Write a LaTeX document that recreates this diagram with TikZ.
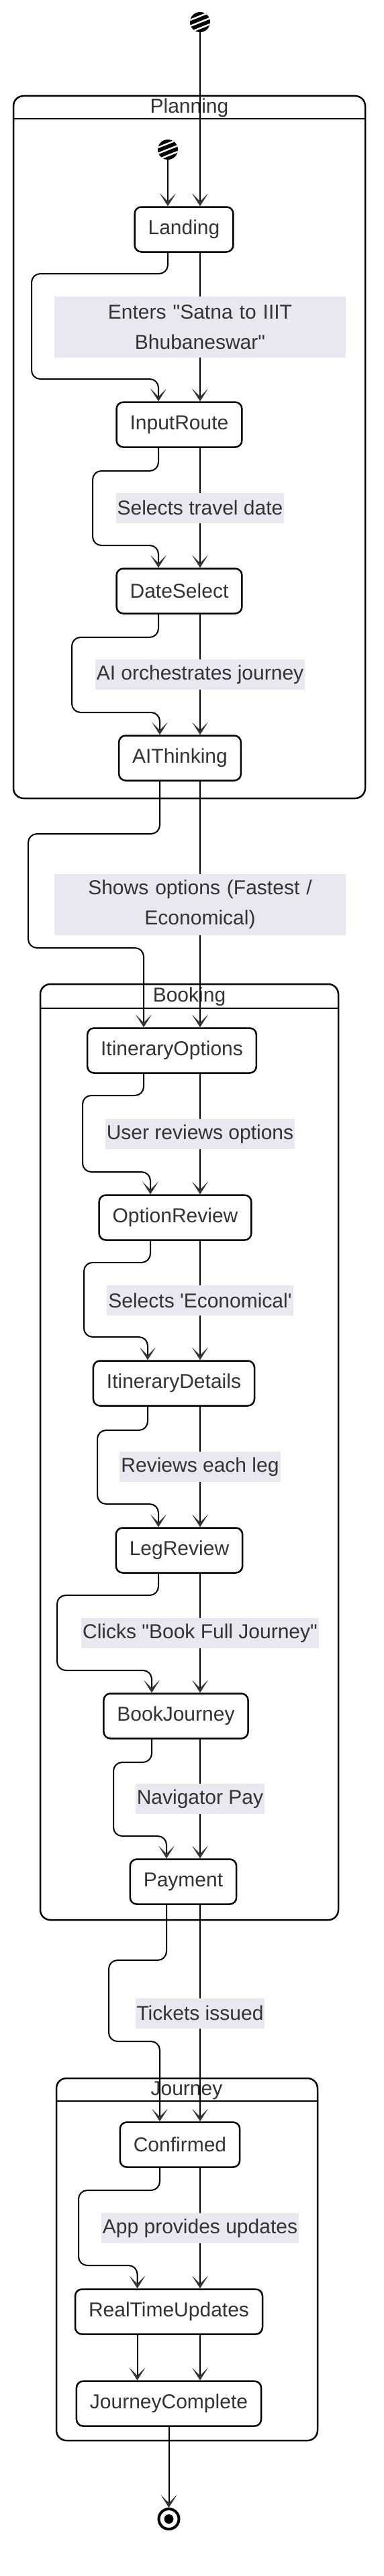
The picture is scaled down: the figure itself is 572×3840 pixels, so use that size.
\documentclass[tikz,border=0pt]{standalone}
\usepackage{fontspec}
\setmainfont{Liberation Sans}
\usetikzlibrary{arrows.meta}
\definecolor{txt}{HTML}{333333}
\definecolor{labbg}{RGB}{232,232,240}
\begin{document}
\begin{tikzpicture}[x=1pt,y=-1pt,
  state/.style={draw=black, line width=2.5pt, rounded corners=10pt, fill=white, minimum height=67pt, inner xsep=20pt, inner ysep=0pt, text=txt, font=\fontsize{30}{36}\selectfont},
  lab/.style={fill=labbg, text=txt, font=\fontsize{30}{45}\selectfont, inner xsep=2pt, inner ysep=0pt, minimum height=45pt},
  lab2/.style={lab, text width=430pt, align=center, minimum height=91pt},
  conn/.style={draw=black, line width=2pt, -{Stealth[length=19pt,width=24pt,inset=12pt,color=txt,line width=0.5pt]}},
  curve/.style={conn, rounded corners=13pt},
  group/.style={draw=black, line width=2.5pt, rounded corners=15pt},
  gsep/.style={draw=black, line width=2.5pt},
  gtitle/.style={text=txt, font=\fontsize{30}{36}\selectfont, inner sep=0pt},
  startdot/.style={circle, fill=black, minimum size=30pt, inner sep=0pt},
]
\fill[white] (0,0) rectangle (572,3840);
\useasboundingbox (0,0) rectangle (572,3840);

% groups
\draw[group] (20,143) rectangle (544,1190);
\draw[gsep] (20,177) -- (544,177);
\node[gtitle] (planT) at (282,161) {Planning};
\draw[group] (60,1467) rectangle (504,2862);
\draw[gsep] (60,1503) -- (504,1503);
\node[gtitle] (bookT) at (282,1486) {Booking};
\draw[group] (84,3098) rectangle (473,3638);
\draw[gsep] (84,3132) -- (473,3132);
\node[gtitle] (jourT) at (278,3116) {Journey};

% start / end
\node[startdot] (start) at (298,33) {};
\begin{scope}
  \clip (298,33) circle (15pt);
  \foreach \k in {-9,0,9} \draw[white, line width=2.5pt] (278,33+\k+8) -- (318,33+\k-8);
\end{scope}
\node[startdot] (istart) at (250,223) {};
\begin{scope}
  \clip (250,223) circle (15pt);
  \foreach \k in {-9,0,9} \draw[white, line width=2.5pt] (230,223+\k+8) -- (270,223+\k-8);
\end{scope}
\node[circle, draw=black, line width=4pt, fill=white, minimum size=30pt, inner sep=0pt] (finish) at (251.5,3755) {};
\fill[black] (finish.center) circle (7pt);

% states
\node[state] (Landing) at (274,342) {Landing};
\node[state] (InputRoute) at (267,633) {InputRoute};
\node[state] (DateSelect) at (267,881) {DateSelect};
\node[state] (AIThinking) at (268,1130) {AIThinking};
\node[state] (ItineraryOptions) at (256,1566) {ItineraryOptions};
\node[state] (OptionReview) at (261,1815) {OptionReview};
\node[state] (ItineraryDetails) at (259,2062) {ItineraryDetails};
\node[state] (LegReview) at (267,2311) {LegReview};
\node[state] (BookJourney) at (262,2558) {BookJourney};
\node[state] (Payment) at (273,2805) {Payment};
\node[state] (Confirmed) at (268,3197) {Confirmed};
\node[state] (RealTimeUpdates) at (251.5,3446) {RealTimeUpdates};
\node[state] (JourneyComplete) at (251.5,3583) {JourneyComplete};

% edges
\draw[conn] (start.south) -- ([xshift=24pt]Landing.north);
\draw[conn] (istart.south) -- ([xshift=-24pt]Landing.north);

\draw[curve] ([xshift=-24pt]Landing.south) |- (47,408) |- (236,565) -- ([xshift=-31pt]InputRoute.north);
\draw[conn] ([xshift=24pt]Landing.south) -- node[lab2] (l1) {Enters \textquotedbl Satna to IIIT\\Bhubaneswar\textquotedbl} ([xshift=31pt]InputRoute.north);

\draw[curve] ([xshift=-31pt]InputRoute.south) |- (138,702) |- (236,813) -- ([xshift=-31pt]DateSelect.north);
\draw[conn] ([xshift=31pt]InputRoute.south) -- node[lab] (l2) {Selects travel date} ([xshift=31pt]DateSelect.north);

\draw[curve] ([xshift=-31pt]DateSelect.south) |- (107,950) |- (238,1062) -- ([xshift=-30pt]AIThinking.north);
\draw[conn] ([xshift=31pt]DateSelect.south) -- node[lab] (l3) {AI orchestrates journey} ([xshift=30pt]AIThinking.north);

\draw[curve] ([xshift=-30pt]AIThinking.south) |- (42,1243) |- (214,1413) -- ([xshift=-42pt]ItineraryOptions.north);
\draw[conn] ([xshift=30pt]AIThinking.south) -- node[lab2] (l4) {Shows options (Fastest /\\Economical)} ([xshift=42pt]ItineraryOptions.north);

\draw[curve] ([xshift=-42pt]ItineraryOptions.south) |- (123,1633) |- (224,1747) -- ([xshift=-37pt]OptionReview.north);
\draw[conn] ([xshift=42pt]ItineraryOptions.south) -- node[lab] (l5) {User reviews options} ([xshift=37pt]OptionReview.north);

\draw[curve] ([xshift=-37pt]OptionReview.south) |- (125,1882) |- (220,1993) -- ([xshift=-39pt]ItineraryDetails.north);
\draw[conn] ([xshift=37pt]OptionReview.south) -- node[lab] (l6) {Selects \textquotesingle Economical\textquotesingle} ([xshift=39pt]ItineraryDetails.north);

\draw[curve] ([xshift=-39pt]ItineraryDetails.south) |- (145,2132) |- (236,2242) -- ([xshift=-31pt]LegReview.north);
\draw[conn] ([xshift=39pt]ItineraryDetails.south) -- node[lab] (l7) {Reviews each leg} ([xshift=31pt]LegReview.north);

\draw[curve] ([xshift=-31pt]LegReview.south) |- (85,2378) |- (226,2490) -- ([xshift=-36pt]BookJourney.north);
\draw[conn] ([xshift=31pt]LegReview.south) -- node[lab] (l8) {Clicks \textquotedbl Book Full Journey\textquotedbl} ([xshift=36pt]BookJourney.north);

\draw[curve] ([xshift=-36pt]BookJourney.south) |- (169,2627) |- (248,2737) -- ([xshift=-25pt]Payment.north);
\draw[conn] ([xshift=36pt]BookJourney.south) -- node[lab] (l9) {Navigator Pay} ([xshift=25pt]Payment.north);

\draw[curve] ([xshift=-25pt]Payment.south) |- (162,2922) |- (238,3043) -- ([xshift=-30pt]Confirmed.north);
\draw[conn] ([xshift=25pt]Payment.south) -- node[lab] (l10) {Tickets issued} ([xshift=30pt]Confirmed.north);

\draw[curve] ([xshift=-30pt]Confirmed.south) |- (117,3265) |- (204.5,3377) -- ([xshift=-47pt]RealTimeUpdates.north);
\draw[conn] ([xshift=30pt]Confirmed.south) -- node[lab] (l11) {App provides updates} ([xshift=46.5pt]RealTimeUpdates.north);

\draw[conn] ([xshift=-47pt]RealTimeUpdates.south) -- ([xshift=-47pt]JourneyComplete.north);
\draw[conn] ([xshift=46.5pt]RealTimeUpdates.south) -- ([xshift=46.5pt]JourneyComplete.north);

\draw[conn] (JourneyComplete.south) -- (finish.north);
\end{tikzpicture}
\end{document}
